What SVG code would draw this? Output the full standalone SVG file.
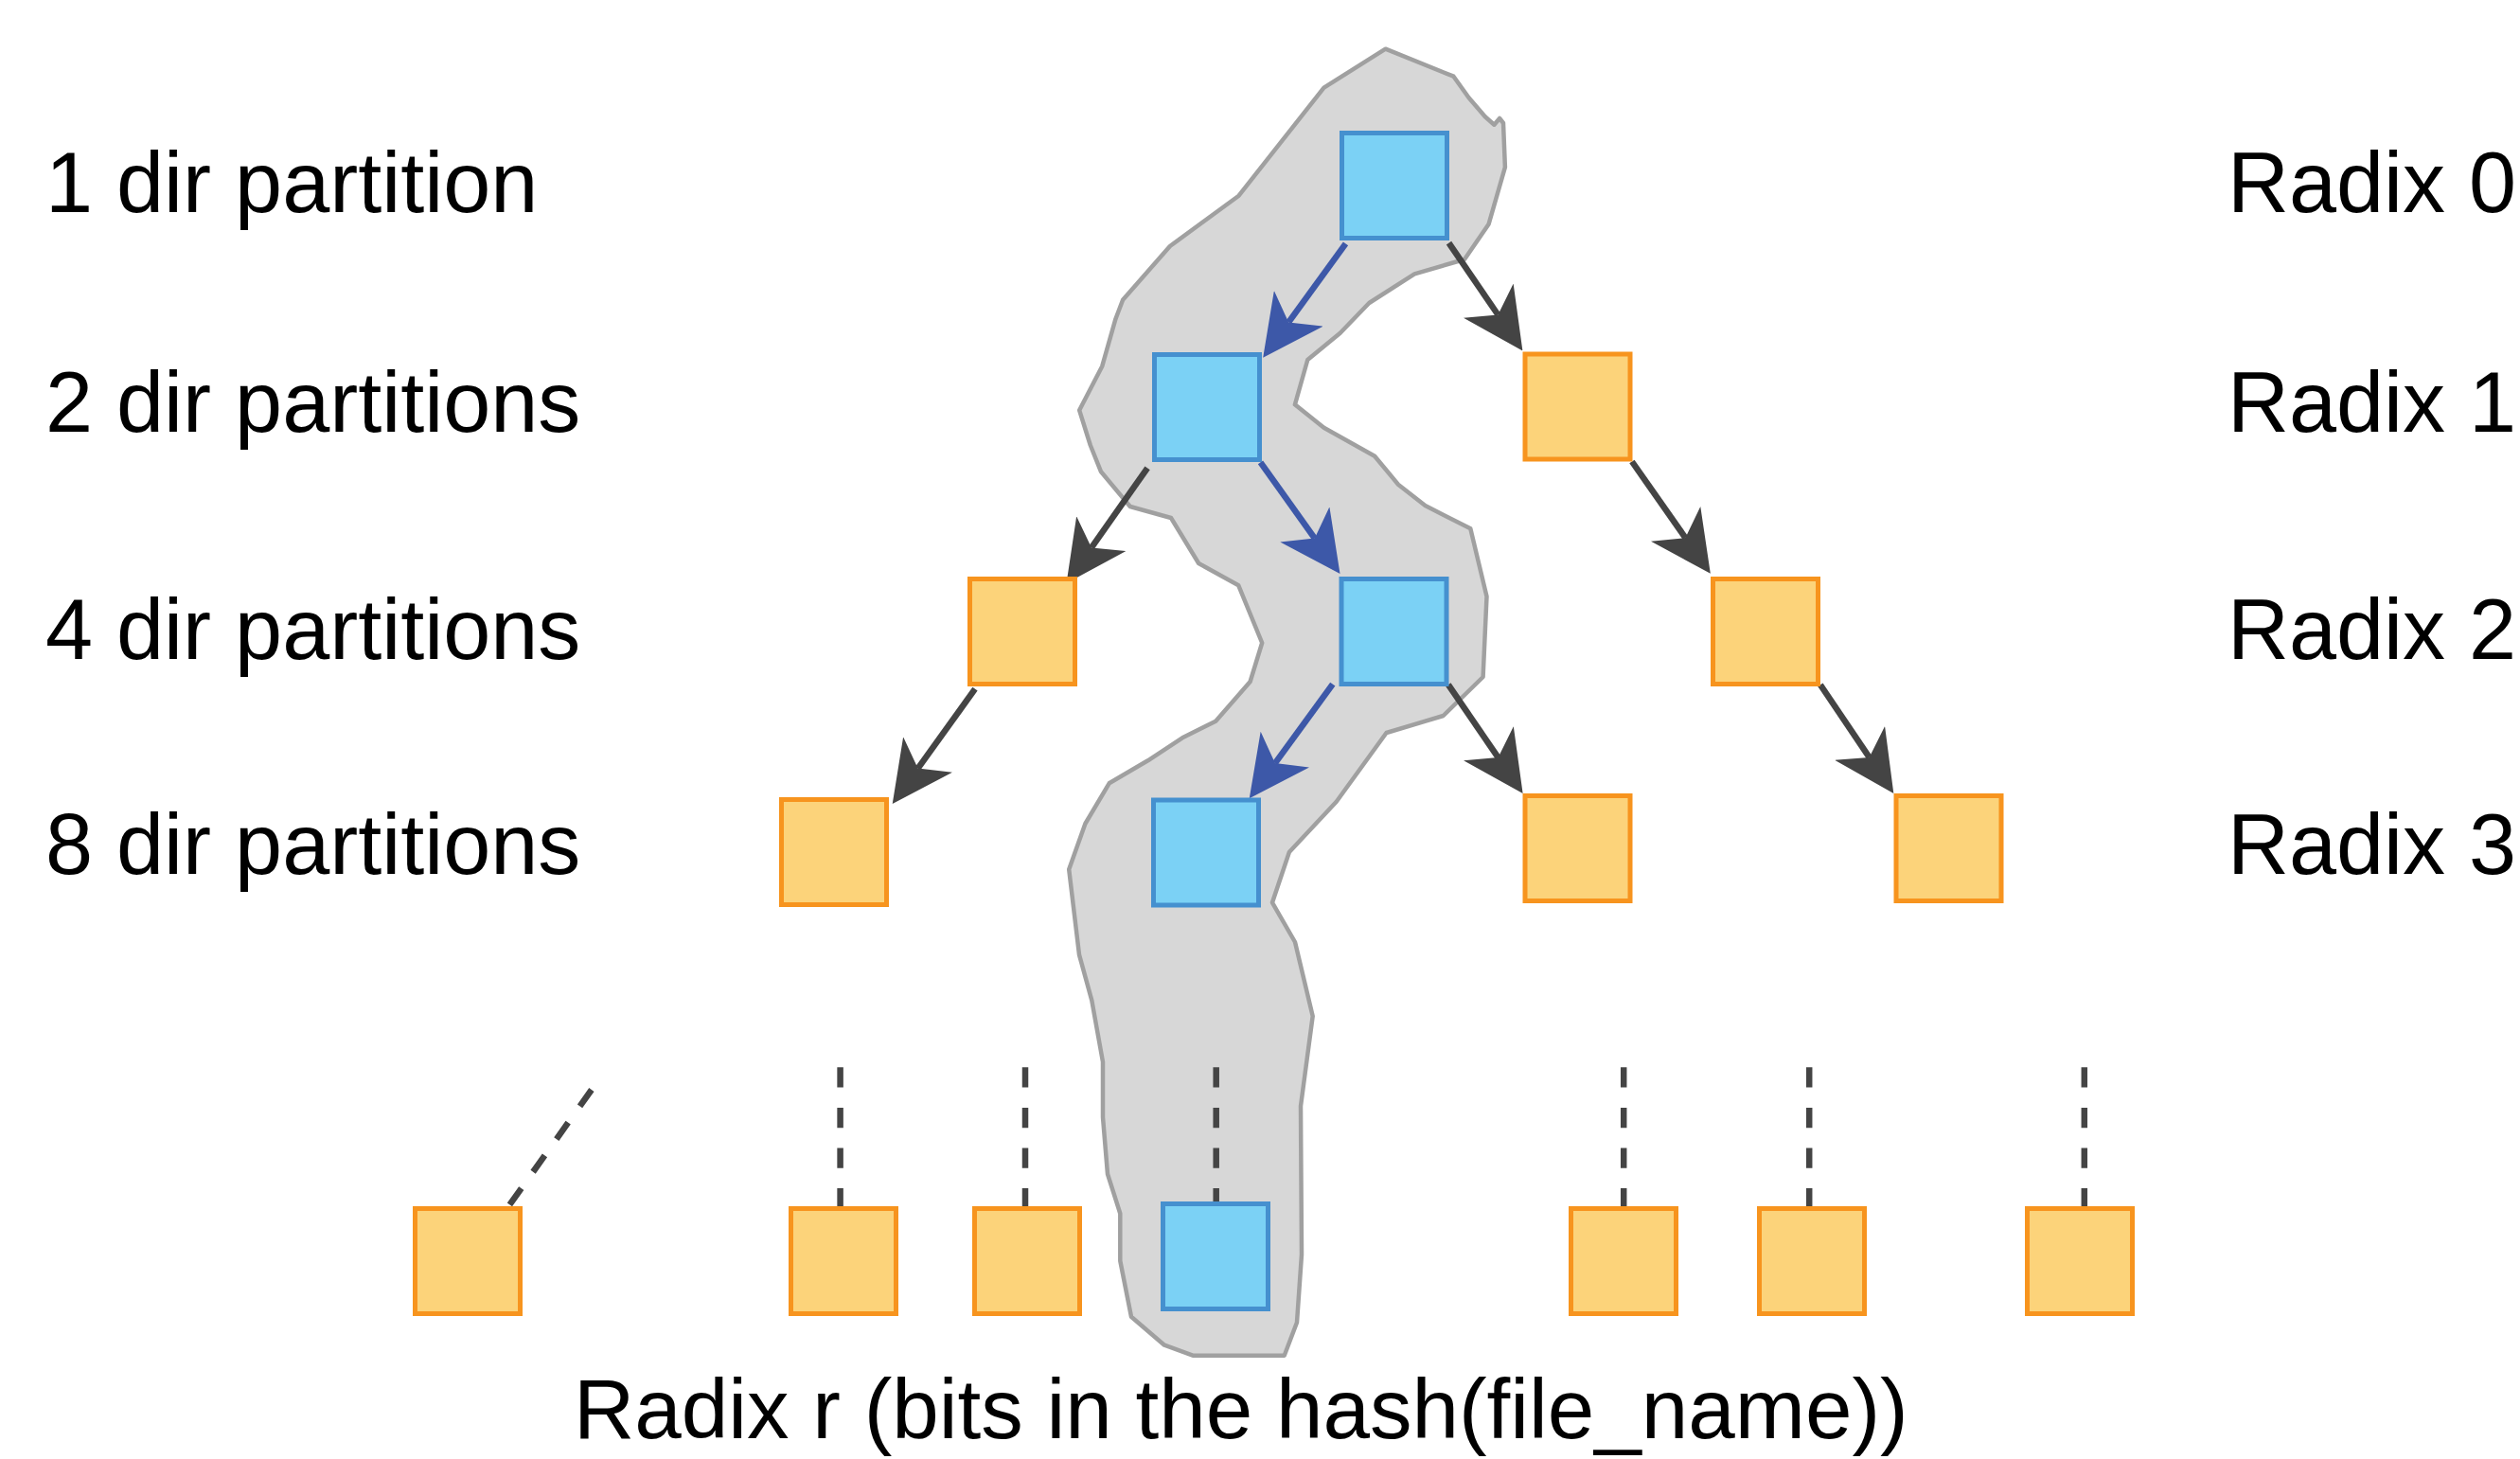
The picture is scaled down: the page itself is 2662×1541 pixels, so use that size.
<svg xmlns="http://www.w3.org/2000/svg" width="2662" height="1541" viewBox="0 0 2662 1541">
<style>
.blue{fill:#7bd1f5;stroke:#4590cf;stroke-width:5}
.orange{fill:#fcd37a;stroke:#f7941e;stroke-width:5}
.e{fill:none;stroke:#444444;stroke-width:6.5}
.eb{fill:none;stroke:#3d58a8;stroke-width:6.5}
.d{fill:none;stroke:#444444;stroke-width:6.5;stroke-dasharray:21.3 21.3}
.lbl{font-family:"Liberation Sans",Arial,sans-serif;font-size:90px;fill:#000}
</style>
<defs>
<marker id="ah" markerUnits="userSpaceOnUse" markerWidth="64" markerHeight="64" viewBox="0 -32 64 64" refX="18" refY="0" orient="auto">
<path d="M0,-32 L64,0 L0,32 L18,0 Z" fill="#444444"/>
</marker>
<marker id="ahb" markerUnits="userSpaceOnUse" markerWidth="64" markerHeight="64" viewBox="0 -32 64 64" refX="18" refY="0" orient="auto">
<path d="M0,-32 L64,0 L0,32 L18,0 Z" fill="#3d58a8"/>
</marker>
</defs>
<rect width="2662" height="1541" fill="#ffffff"/>
<g id="path-highlight">
<polygon fill="#d7d7d7" stroke="#a0a0a0" stroke-width="4.5" stroke-linejoin="round" points="1463.6,51.7 1535.5,80.7 1551.6,103.3 1568.8,123.3 1578.4,131.7 1584.1,125 1588,130 1589.9,176.7 1572.6,236.7 1547,274 1494.2,289.3 1446.3,320 1415.7,351.7 1381.3,380 1367.9,427.3 1398.5,451.7 1452.1,481.7 1477,511.7 1505.5,534 1553.3,558.3 1570.5,630 1566.6,715 1524.6,756 1464.5,774 1411.7,846.7 1361.9,900 1344,953.3 1368,995 1386.7,1073.3 1374,1168.3 1375,1325 1370,1396.7 1356.7,1431.7 1260,1431.7 1230,1420.7 1195,1390.7 1183.3,1331.7 1183.3,1281.7 1170,1240 1165,1180 1165,1121.7 1153.3,1056.7 1140,1008.3 1129.2,918.3 1146.4,870 1171.7,827.3 1212.6,803.3 1249,779.3 1284.2,761.7 1320.6,720 1333.2,679 1308.3,618.3 1266.2,595 1237,547 1193.8,535 1163.1,498.3 1151.7,470 1140.2,433.3 1164.3,386.7 1178.5,336.7 1186.1,316.7 1235.9,260 1308.6,206.7 1398.5,92.7"/>
</g>
<g id="connectors">
<line class="eb" x1="1421.5" y1="257.3" x2="1361.2" y2="340.4" marker-end="url(#ahb)"/>
<line class="e" x1="1530.5" y1="256.7" x2="1582.4" y2="332.5" marker-end="url(#ah)"/>
<line class="e" x1="1212.1" y1="494.3" x2="1153.0" y2="578.4" marker-end="url(#ah)"/>
<line class="eb" x1="1331.5" y1="488.3" x2="1388.8" y2="568.6" marker-end="url(#ahb)"/>
<line class="e" x1="1723.9" y1="487.5" x2="1780.4" y2="568.1" marker-end="url(#ah)"/>
<line class="e" x1="1529.9" y1="723.2" x2="1582.6" y2="800.1" marker-end="url(#ah)"/>
<line class="e" x1="1922.9" y1="723.2" x2="1974.6" y2="799.9" marker-end="url(#ah)"/>
<line class="eb" x1="1407.8" y1="722.7" x2="1346.9" y2="806.1" marker-end="url(#ahb)"/>
<line class="e" x1="1030" y1="727.7" x2="969.6" y2="811.6" marker-end="url(#ah)"/>
<line class="d" x1="624.9" y1="1151" x2="538.2" y2="1272.7"/>
<line class="d" x1="887.6" y1="1127.3" x2="887.6" y2="1276.7"/>
<line class="d" x1="1083" y1="1127.3" x2="1083" y2="1276.7"/>
<line class="d" x1="1284.7" y1="1127.3" x2="1284.7" y2="1276.7"/>
<line class="d" x1="1715.2" y1="1127.3" x2="1715.2" y2="1276.7"/>
<line class="d" x1="1911.2" y1="1127.3" x2="1911.2" y2="1276.7"/>
<line class="d" x1="2201.8" y1="1127.3" x2="2201.8" y2="1276.7"/>
</g>
<g id="n-r0"><rect class="blue" x="1417.5" y="140.5" width="111" height="111"/></g>
<g id="n-r1-a"><rect class="blue" x="1219.5" y="374.5" width="111" height="111"/></g>
<g id="n-r1-b"><rect class="orange" x="1611" y="374" width="111" height="111"/></g>
<g id="n-r2-a"><rect class="orange" x="1024.5" y="611.5" width="111" height="111"/></g>
<g id="n-r2-b"><rect class="blue" x="1417" y="611.5" width="111" height="111"/></g>
<g id="n-r2-c"><rect class="orange" x="1809.5" y="611.5" width="111" height="111"/></g>
<g id="n-r3-a"><rect class="orange" x="825.5" y="844.5" width="111" height="111"/></g>
<g id="n-r3-b"><rect class="blue" x="1218.5" y="845" width="111" height="111"/></g>
<g id="n-r3-c"><rect class="orange" x="1611" y="840.5" width="111" height="111"/></g>
<g id="n-r3-d"><rect class="orange" x="2003" y="840.5" width="111" height="111"/></g>
<g id="n-rr-1"><rect class="orange" x="438.5" y="1276.5" width="111" height="111"/></g>
<g id="n-rr-2"><rect class="orange" x="835.5" y="1276.5" width="111" height="111"/></g>
<g id="n-rr-3"><rect class="orange" x="1029.5" y="1276.5" width="111" height="111"/></g>
<g id="n-rr-4"><rect class="blue" x="1228.5" y="1271.5" width="111" height="111"/></g>
<g id="n-rr-5"><rect class="orange" x="1659.5" y="1276.5" width="111" height="111"/></g>
<g id="n-rr-6"><rect class="orange" x="1858.5" y="1276.5" width="111" height="111"/></g>
<g id="n-rr-7"><rect class="orange" x="2141.5" y="1276.5" width="111" height="111"/></g>
<g id="labels">
<text class="lbl" x="48" y="224">1 dir partition</text>
<text class="lbl" x="48" y="456">2 dir partitions</text>
<text class="lbl" x="48" y="696">4 dir partitions</text>
<text class="lbl" x="48" y="923">8 dir partitions</text>
<text class="lbl" x="2353" y="224">Radix 0</text>
<text class="lbl" x="2353" y="456">Radix 1</text>
<text class="lbl" x="2353" y="696">Radix 2</text>
<text class="lbl" x="2353" y="923">Radix 3</text>
<text class="lbl" x="606" y="1519" style="font-size:89px">Radix r (bits in the hash(file_name))</text>
</g>
</svg>
